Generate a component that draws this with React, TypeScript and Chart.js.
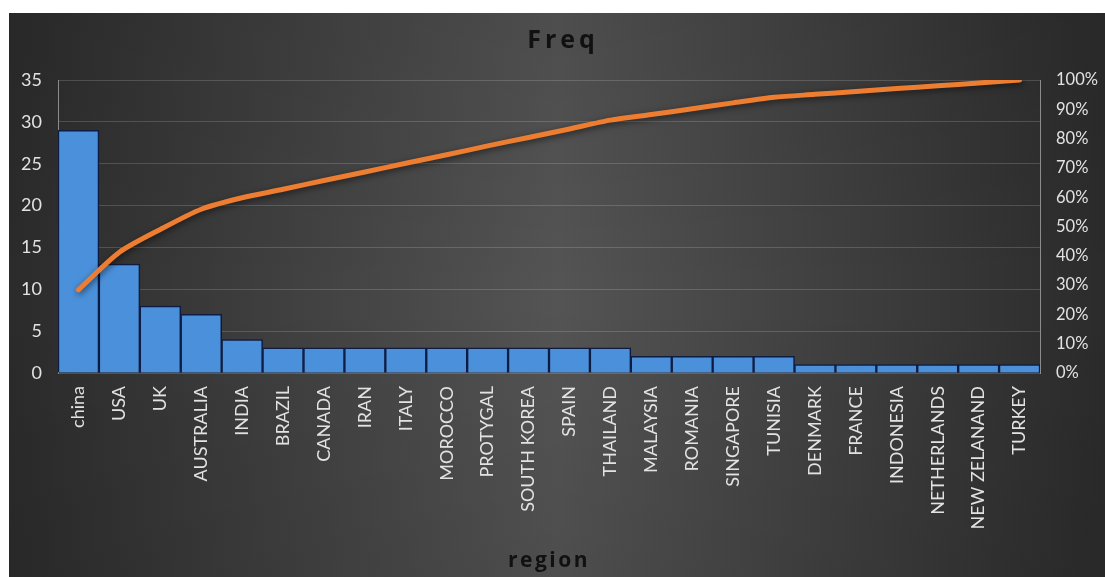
import React, { useEffect, useRef } from "react";
import { Chart, registerables } from "chart.js";

Chart.register(...registerables);

const categories = [
  "china", "USA", "UK", "AUSTRALIA", "INDIA", "BRAZIL", "CANADA", "IRAN", "ITALY",
  "MOROCCO", "PROTYGAL", "SOUTH KOREA", "SPAIN", "THAILAND", "MALAYSIA", "ROMANIA",
  "SINGAPORE", "TUNISIA", "DENMARK", "FRANCE", "INDONESIA", "NETHERLANDS", "NEW ZELANAND", "TURKEY",
];
const freq = [29, 13, 8, 7, 4, 3, 3, 3, 3, 3, 3, 3, 3, 3, 2, 2, 2, 2, 1, 1, 1, 1, 1, 1];
const cumulativePct = [
  28.4, 41.2, 49.0, 55.9, 59.8, 62.7, 65.7, 68.6, 71.6, 74.5, 77.5, 80.4, 83.3, 86.3,
  88.2, 90.2, 92.2, 94.1, 95.1, 96.1, 97.1, 98.0, 99.0, 100,
];
const leftTicks = [0, 5, 10, 15, 20, 25, 30, 35];
const rightTicks = [0, 10, 20, 30, 40, 50, 60, 70, 80, 90, 100];
const chartTitle = "Freq";
const xTitle = "region";

const FONT = "Lato, 'Open Sans', sans-serif";

export default function App() {
  const ref = useRef<HTMLCanvasElement | null>(null);

  useEffect(() => {
    if (!ref.current) return;
    const bgPlugin = {
      id: "bg",
      beforeDraw(chart: any) {
        const { ctx, width, height } = chart;
        ctx.save();
        const g = ctx.createLinearGradient(0, 0, width, 0);
        g.addColorStop(0, "#2b2b2b");
        g.addColorStop(0.5, "#545454");
        g.addColorStop(1, "#2b2b2b");
        ctx.fillStyle = g;
        ctx.fillRect(0, 0, width, height);
        const v = ctx.createLinearGradient(0, 0, 0, height);
        v.addColorStop(0, "rgba(0,0,0,0.08)");
        v.addColorStop(0.5, "rgba(0,0,0,0)");
        v.addColorStop(1, "rgba(0,0,0,0.08)");
        ctx.fillStyle = v;
        ctx.fillRect(0, 0, width, height);
        ctx.restore();
      },
      afterDraw(chart: any) {
        const { ctx } = chart;
        ctx.save();
        ctx.fillStyle = "#111111";
        ctx.textAlign = "center";
        ctx.textBaseline = "middle";
        (ctx as any).letterSpacing = "4px";
        ctx.font = `bold 25px 'Open Sans', sans-serif`;
        ctx.fillText(chartTitle, 554, 28);
        (ctx as any).letterSpacing = "2.5px";
        ctx.font = `bold 21px 'Open Sans', sans-serif`;
        ctx.fillText(xTitle, 540, 548);
        ctx.restore();
      },
    };
    const shadowPlugin = {
      id: "lineShadow",
      beforeDatasetDraw(chart: any, args: any) {
        if (args.meta.type === "line") {
          chart.ctx.save();
          chart.ctx.shadowColor = "rgba(0,0,0,0.55)";
          chart.ctx.shadowBlur = 6;
          chart.ctx.shadowOffsetX = 1;
          chart.ctx.shadowOffsetY = 2;
        }
      },
      afterDatasetDraw(chart: any, args: any) {
        if (args.meta.type === "line") chart.ctx.restore();
      },
    };

    const chart = new Chart(ref.current, {
      type: "bar",
      data: {
        labels: categories,
        datasets: [
          {
            type: "line",
            label: "Cumulative %",
            data: cumulativePct,
            yAxisID: "y1",
            borderColor: "#ED7D31",
            borderWidth: 5,
            pointRadius: 0,
            tension: 0.25,
            borderCapStyle: "round",
            order: 0,
          } as any,
          {
            type: "bar",
            label: "Freq",
            data: freq,
            yAxisID: "y",
            backgroundColor: "#4a90da",
            borderColor: "#0e1c42",
            borderWidth: 1.5,
            barPercentage: 1,
            categoryPercentage: 1,
            order: 1,
          } as any,
        ],
      },
      options: {
        animation: false,
        responsive: false,
        events: [],
        layout: { padding: { top: 67, left: 0, right: 0, bottom: 0 } },
        plugins: {
          legend: { display: false },
          tooltip: { enabled: false },
          title: { display: false },
        },
        scales: {
          x: {
            grid: { display: false, drawTicks: false },
            border: { display: false },
            ticks: {
              color: "#e2e2e2",
              font: { family: FONT, size: 18 },
              maxRotation: 90,
              minRotation: 90,
              autoSkip: false,
              padding: 13,
            },
            afterFit(scale: any) {
              scale.height = 204;
            },
          },
          y: {
            position: "left",
            min: 0,
            max: 35,
            afterBuildTicks(scale: any) {
              scale.ticks = leftTicks.map((v) => ({ value: v }));
            },
            grid: { color: "rgba(255,255,255,0.16)", lineWidth: 1, drawTicks: false },
            border: { display: true, color: "#8c8c8c", width: 1 },
            ticks: {
              color: "#e2e2e2",
              font: { family: FONT, size: 18 },
              padding: 16,
            },
            afterFit(scale: any) {
              scale.width = 49;
            },
          },
          y1: {
            position: "right",
            min: 0,
            max: 100,
            afterBuildTicks(scale: any) {
              scale.ticks = rightTicks.map((v) => ({ value: v }));
            },
            grid: { display: false, drawTicks: false },
            border: { display: true, color: "#8c8c8c", width: 1 },
            ticks: {
              color: "#e2e2e2",
              font: { family: FONT, size: 16.5 },
              padding: 16,
              callback: (v: any) => `${v}%`,
            },
            afterFit(scale: any) {
              scale.width = 65;
            },
          },
        },
      },
      plugins: [bgPlugin, shadowPlugin],
    });
    return () => chart.destroy();
  }, []);

  return (
    <div style={{ position: "fixed", left: 0, top: 0, width: 1105, height: 577, background: "#ffffff", overflow: "hidden" }}>
      <canvas ref={ref} width={1096} height={564} style={{ position: "absolute", left: 9, top: 13, width: 1096, height: 564 }} />
    </div>
  );
}
